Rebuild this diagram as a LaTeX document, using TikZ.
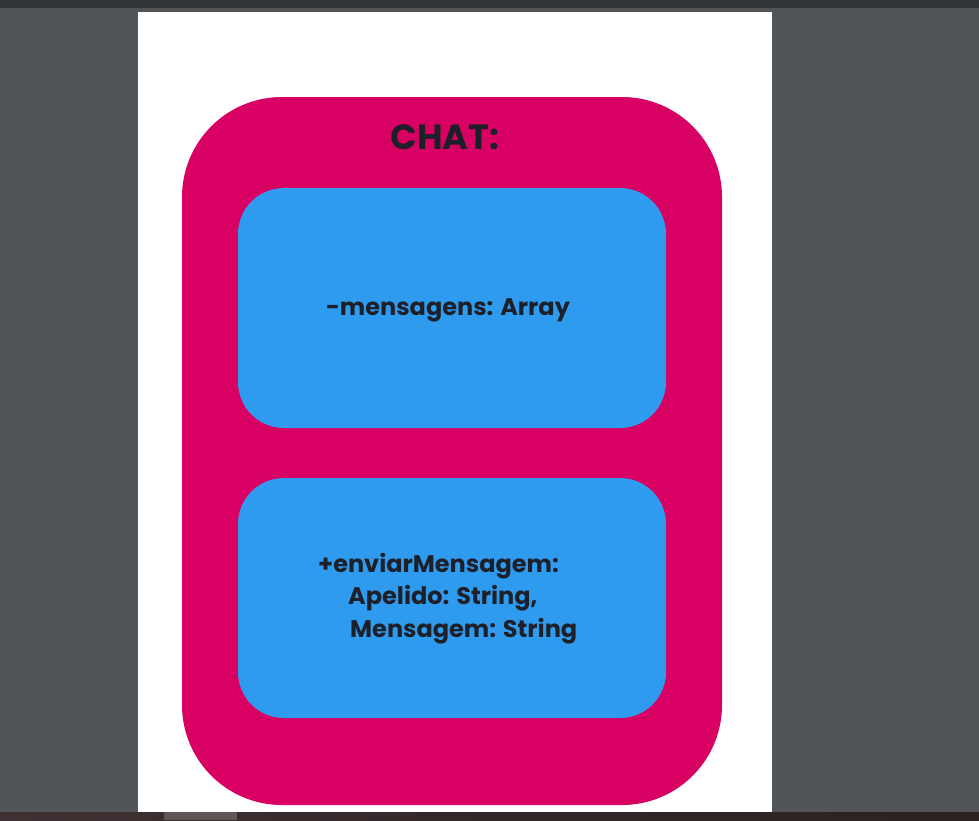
\documentclass[tikz,border=0pt]{standalone}
\usepackage{fontspec}
\setmainfont{Poppins}
\definecolor{viewerbg}{HTML}{515558}
\definecolor{topbar}{HTML}{323538}
\definecolor{chatpink}{HTML}{D80063}
\definecolor{fieldblue}{HTML}{2E9BEF}
\definecolor{inktext}{HTML}{1E2029}
\definecolor{stripleft}{HTML}{3E3133}
\definecolor{stripright}{HTML}{2A2120}
\definecolor{striptab}{HTML}{5F5756}
\begin{document}
\begin{tikzpicture}[x=1pt,y=-1pt]
\tikzstyle{every node}+=[inner sep=0pt]
\tikzstyle{chatbox}=[fill=chatpink, rounded corners=100pt, minimum width=540pt, minimum height=708pt]
\tikzstyle{fieldbox}=[fill=fieldblue, rounded corners=46pt, minimum width=428pt, minimum height=240pt]
\tikzstyle{membertext}=[text=inktext, font=\bfseries\fontsize{24}{29}\selectfont]
% viewer around the page
\fill [viewerbg] (0,0) rectangle (979,820);
\fill [topbar] (0,0) rectangle (979,8);
\fill [white] (138,12) rectangle (772,812);
\shade [left color=stripleft, right color=stripright] (0,812) rectangle (979,820);
\fill [striptab] (164,812) rectangle (237,820);
% class box
\node [chatbox] (chat) at (452,451) {};
\node [text=inktext, font=\bfseries\fontsize{35}{40}\selectfont] (chattitle) at (445,137) {CHAT:};
\node [fieldbox] (attrbox) at (452,308) {};
\node [fieldbox] (opbox) at (452,598) {};
\node [membertext] (attr) at (448,310) {-mensagens: Array};
\node [membertext, anchor=west] (opname) at (318,566) {+enviarMensagem:};
\node [membertext, anchor=west] (oparga) at (348,598) {Apelido: String,};
\node [membertext, anchor=west] (opargb) at (350,631) {Mensagem: String};
\end{tikzpicture}
\end{document}
